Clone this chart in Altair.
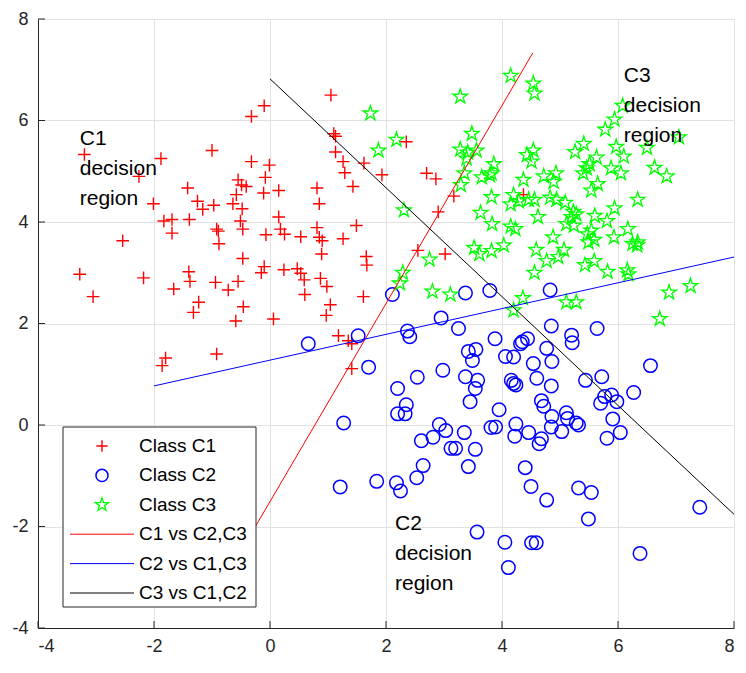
import altair as alt
import pandas as pd

# ---------------- data ----------------
c1_x = [-0.10, -0.32, -3.20, -1.00, -1.88, -0.32, -0.01, -2.26, -0.08, -0.55, -0.49, -0.41, -1.42, -0.11,
        -0.58, -1.25, -0.97, -0.64, -2.01, -1.16, -0.48, -1.83, -1.69, -1.39, -0.51, -0.92, -0.47, -1.69,
        -0.89, -0.07, -2.54, -0.88, -0.47, -0.10, -3.28, -1.40, -2.18, -0.15, 0.24, 0.47, 0.53, 0.59,
        0.60, 0.87, 0.98, -3.05, -1.38, -1.66, -1.23, -1.32, -0.94, -0.72, -0.55, -0.46, -0.59, 0.06,
        1.04, 0.97, 1.61, 1.18, 1.35, 1.41, 1.41, -1.80, -1.86, -0.92, 1.05, 1.10, 1.13, 2.35, 1.13,
        1.26, 1.29, 1.62, 1.43, 1.93, 0.81, 0.85, 0.15, 2.70, 2.86, 3.17, 2.90, 0.15, 0.18, 0.25, 0.81,
        0.85, 0.90, 0.89, 0.53, 1.26, 1.49, 1.66, 1.67, 2.55, 3.02, 4.37]
c1_y = [6.29, 6.08, 5.33, 5.41, 5.25, 5.19, 5.12, 4.90, 4.88, 4.83, 4.73, 4.70, 4.67, 4.57,
        4.54, 4.41, 4.33, 4.36, 4.36, 4.25, 4.26, 4.02, 4.05, 4.05, 4.02, 3.86, 3.86, 3.78,
        3.82, 3.75, 3.63, 3.57, 3.28, 3.12, 2.97, 3.02, 2.90, 3.00, 3.06, 3.08, 2.99, 2.86,
        2.57, 2.89, 2.73, 2.53, 2.83, 2.68, 2.42, 2.22, 2.81, 2.66, 2.83, 2.33, 2.05, 2.09,
        2.37, 2.16, 2.53, 1.76, 1.66, 1.60, 1.11, 1.32, 1.17, 1.40, 6.50, 5.74, 5.69, 5.58, 5.38,
        5.19, 4.97, 5.16, 4.70, 4.93, 4.67, 4.36, 4.62, 4.96, 4.85, 4.51, 4.20, 4.10, 3.86, 3.76, 3.89,
        3.70, 3.63, 3.37, 3.71, 3.67, 3.93, 3.32, 3.15, 3.44, 3.37, 4.54]

c2_x = [0.66, 1.52, 1.70, 2.11, 3.37, 3.79, 2.95, 3.25, 2.37, 2.41, 3.88, 4.32, 4.35, 4.44, 4.06, 4.20,
        3.42, 3.55, 3.49, 4.54, 2.98, 2.54, 2.20, 3.37, 3.58, 3.54, 4.16, 4.20, 4.24, 4.60, 3.45, 2.35,
        2.20, 2.33, 1.27, 3.95, 2.92, 3.03, 3.81, 3.89, 4.24, 3.35, 4.22, 4.46, 2.61, 2.81, 3.12, 3.20,
        3.54, 2.64, 3.42, 4.40,
        4.83, 4.85, 5.64, 5.20, 5.21, 4.77, 4.86, 6.56, 4.85, 5.44, 5.72, 6.27, 5.77, 5.70, 5.89, 5.98,
        4.68, 4.72, 4.86, 4.85, 5.11, 5.13, 5.28, 5.32, 5.91, 5.03, 4.68, 4.64, 5.81, 6.04,
        1.21, 1.84, 2.18, 2.25, 2.53, 4.50, 4.77, 5.32, 5.54, 7.41, 5.49, 3.57, 4.05, 4.51, 4.59, 6.38, 4.11]
c2_y = [1.60, 1.76, 1.14, 2.57, 2.60, 2.65, 2.11, 1.90, 1.85, 1.74, 1.70, 1.60, 1.64, 1.70, 1.35, 1.34,
        1.45, 1.49, 1.27, 1.21, 1.08, 0.94, 0.72, 0.95, 0.88, 0.72, 0.88, 0.82, 0.79, 0.92, 0.46, 0.40,
        0.22, 0.22, 0.04, 0.30, 0.01, -0.11, -0.05, -0.04, 0.02, -0.15, -0.22, -0.15, -0.31, -0.24, -0.46, -0.46,
        -0.48, -0.80, -0.82, -0.84,
        2.66, 1.95, 1.90, 1.77, 1.62, 1.51, 1.25, 1.17, 0.77, 0.88, 0.95, 0.64, 0.56, 0.43, 0.59, 0.46,
        0.48, 0.37, 0.17, -0.04, 0.24, 0.13, 0.04, 0.00, 0.12, -0.13, -0.27, -0.37, -0.26, -0.15,
        -1.22, -1.11, -1.14, -1.30, -1.04, -1.21, -1.48, -1.24, -1.33, -1.62, -1.85, -2.11, -2.31, -2.32, -2.32, -2.53, -2.81]

c3_x = [3.28, 1.73, 2.18, 1.87, 3.48, 3.28, 3.41, 3.56, 3.39, 3.86, 3.82, 3.65, 3.79, 3.35, 3.29, 3.82,
        3.63, 3.83, 2.31, 3.52, 3.61, 3.82, 2.75, 2.29, 4.03,
        4.15, 4.54, 4.56, 6.08, 5.94, 5.78, 7.05, 5.41, 5.26, 5.97, 6.10, 6.50, 4.43, 4.54, 4.51, 5.63,
        5.51, 5.46, 5.40, 5.88, 6.05, 6.63, 6.84, 4.72, 4.93, 4.89, 4.37, 5.65, 5.54, 6.34, 4.20, 4.15,
        4.29, 4.46, 4.56, 4.83, 4.94, 5.09, 5.94, 5.23, 5.28, 5.20, 4.62, 5.60, 5.81, 5.11, 5.24, 4.15,
        4.23, 6.17, 5.47, 5.54, 5.59, 5.49, 5.93, 4.88, 6.25, 6.34, 6.33, 4.59, 5.07, 4.97, 4.77, 5.43,
        5.59, 5.82, 6.16, 6.18, 4.56,
        6.88, 7.25, 6.72, 4.36, 4.20, 5.11, 5.28, 2.24, 2.80, 3.11]
c3_y = [6.47, 6.14, 5.62, 5.41, 5.74, 5.43, 5.37, 5.41, 5.25, 5.14, 4.96, 4.88, 4.92, 4.96, 4.73, 4.49,
        4.18, 3.96, 4.23, 3.49, 3.37, 3.43, 3.26, 3.00, 3.54,
        6.88, 6.73, 6.53, 6.29, 6.02, 5.82, 5.67, 5.54, 5.38, 5.48, 5.29, 5.46, 5.32, 5.41, 5.19, 5.27,
        5.14, 5.06, 4.96, 5.06, 4.96, 5.07, 4.90, 4.90, 4.96, 4.79, 4.83, 4.75, 4.62, 4.44, 4.53, 4.35,
        4.41, 4.44, 4.44, 4.48, 4.44, 4.38, 4.27, 4.20, 4.15, 4.10, 4.10, 4.12, 4.02, 3.96, 3.93, 3.91,
        3.86, 3.86, 3.76, 3.83, 3.65, 3.60, 3.70, 3.70, 3.57, 3.60, 3.54, 3.45, 3.45, 3.31, 3.23, 3.15,
        3.23, 3.02, 3.05, 2.97, 3.00,
        2.61, 2.74, 2.09, 2.50, 2.26, 2.42, 2.42, 2.79, 2.63, 2.57]

class_names = ["Class C1", "Class C2", "Class C3"]
line_names = ["C1 vs C2,C3", "C2 vs C1,C3", "C3 vs C1,C2"]
line_x0 = [-1.00, -2.00, 0.00]
line_y0 = [-3.46, 0.77, 6.82]
line_x1 = [4.53, 8.00, 8.00]
line_y1 = [7.33, 3.31, -1.76]

ann_text = ["C1\ndecision\nregion", "C2\ndecision\nregion", "C3\ndecision\nregion"]
ann_x = [-3.28, 2.155, 6.10]
ann_y = [5.51, -2.06, 6.75]

x_ticks = [-4, -2, 0, 2, 4, 6, 8]
y_ticks = [-4, -2, 0, 2, 4, 6, 8]

# ---------------- styling ----------------
FONT = "Liberation Sans"
W, H = 696, 609
colors6 = ["#ff0000", "#0000ff", "#00ff00", "#ff0000", "#0000ff", "#000000"]
legend_labels = class_names + line_names
PLUS = "M-1,0H1M0,-1V1"
STAR = ("M0,-1L0.2245,-0.309L0.9511,-0.309L0.3633,0.118L0.5878,0.809L0,0.382"
        "L-0.5878,0.809L-0.3633,0.118L-0.9511,-0.309L-0.2245,-0.309Z")
shapes = [PLUS, "circle", STAR]
sizes = [160, 182, 240]
swidths = [1.4, 1.5, 1.3]

XS = alt.Scale(domain=[-4, 8], nice=False, zero=False)
YS = alt.Scale(domain=[-4, 8], nice=False, zero=False)
COLOR = alt.Color("label:N", scale=alt.Scale(domain=legend_labels, range=colors6), legend=None)


def axis(vals, pad, size):
    return alt.Axis(values=vals, title=None, grid=True, gridColor="#e2e2e2", gridWidth=1,
                    domain=True, domainColor="#262626", domainWidth=1, ticks=False,
                    labelFont=FONT, labelFontSize=size, labelColor="#262626",
                    labelPadding=pad, labelExpr="datum.value + ''")


XA = axis(x_ticks, 9, 18)
YA = axis(y_ticks, 10, 18)


def X(f):
    return alt.X(f, scale=XS, axis=XA)


def Y(f):
    return alt.Y(f, scale=YS, axis=YA)


layers = []
for i, (xs, ys) in enumerate([(c1_x, c1_y), (c2_x, c2_y), (c3_x, c3_y)]):
    df = pd.DataFrame({"x": xs, "y": ys, "label": class_names[i]})
    layers.append(alt.Chart(df).mark_point(shape=shapes[i], size=sizes[i], filled=False,
                                           strokeWidth=swidths[i], opacity=1).encode(
        x=X("x:Q"), y=Y("y:Q"), color=COLOR))

# inward tick marks
tdf_x = pd.DataFrame({"x": x_ticks})
tdf_y = pd.DataFrame({"y": y_ticks})
layers.append(alt.Chart(tdf_x).mark_rule(color="#262626", strokeWidth=1).encode(
    x=X("x:Q"), y=alt.value(H), y2=alt.value(H - 7)))
layers.append(alt.Chart(tdf_y).mark_rule(color="#262626", strokeWidth=1).encode(
    y=Y("y:Q"), x=alt.value(0), x2=alt.value(7)))

# decision boundaries
ldf = pd.DataFrame({"label": line_names, "x": line_x0, "y": line_y0, "x1": line_x1, "y1": line_y1})
layers.append(alt.Chart(ldf).mark_rule(strokeWidth=1).encode(
    x=X("x:Q"), y=Y("y:Q"), x2="x1:Q", y2="y1:Q", color=COLOR))

# region annotations
adf = pd.DataFrame({"t": ann_text, "x": ann_x, "y": ann_y})
layers.append(alt.Chart(adf).mark_text(align="left", baseline="alphabetic", font=FONT, fontSize=21,
                                       lineBreak="\n", lineHeight=30, color="#000000").encode(
    x=X("x:Q"), y=Y("y:Q"), text="t:N"))

# legend (layout in pixels, relative to the plot area)
LX0, LX1, LY0, LY1 = 25, 218, 408, 588
ROW0, DROW = 427, 29.4
SYMX, LINEX0, LINEX1, TEXTX = 64, 32, 96, 101
legdf = pd.DataFrame({"label": legend_labels, "row": list(range(len(legend_labels)))})
legbase = alt.Chart(legdf).transform_calculate(ly=f"{ROW0} + datum.row * {DROW}")
layers.append(alt.Chart(legdf).transform_filter("datum.row == 0").mark_rect(
    fill="white", stroke="#262626", strokeWidth=1).encode(
    x=alt.value(LX0), x2=alt.value(LX1), y=alt.value(LY0), y2=alt.value(LY1)))
for i in range(3):
    layers.append(legbase.transform_filter(f"datum.row == {i}").mark_point(
        shape=shapes[i], size=sizes[i] * 0.8, filled=False, strokeWidth=swidths[i], opacity=1).encode(
        x=alt.value(SYMX), y=alt.Y("ly:Q", scale=None, axis=None), color=COLOR))
layers.append(legbase.transform_filter("datum.row >= 3").mark_rule(strokeWidth=1).encode(
    x=alt.value(LINEX0), x2=alt.value(LINEX1), y=alt.Y("ly:Q", scale=None, axis=None), color=COLOR))
layers.append(legbase.mark_text(align="left", baseline="middle", font=FONT, fontSize=19,
                                color="#000000").encode(
    x=alt.value(TEXTX), y=alt.Y("ly:Q", scale=None, axis=None), text="label:N"))

chart = alt.layer(*layers).properties(
    width=W, height=H,
    padding={"left": 30, "top": 11, "right": 4, "bottom": 32},
    autosize=alt.AutoSizeParams(type="none"),
    background="white",
).configure_view(stroke=None)

chart.save("out.html", embed_options={"renderer": "svg", "actions": False})
